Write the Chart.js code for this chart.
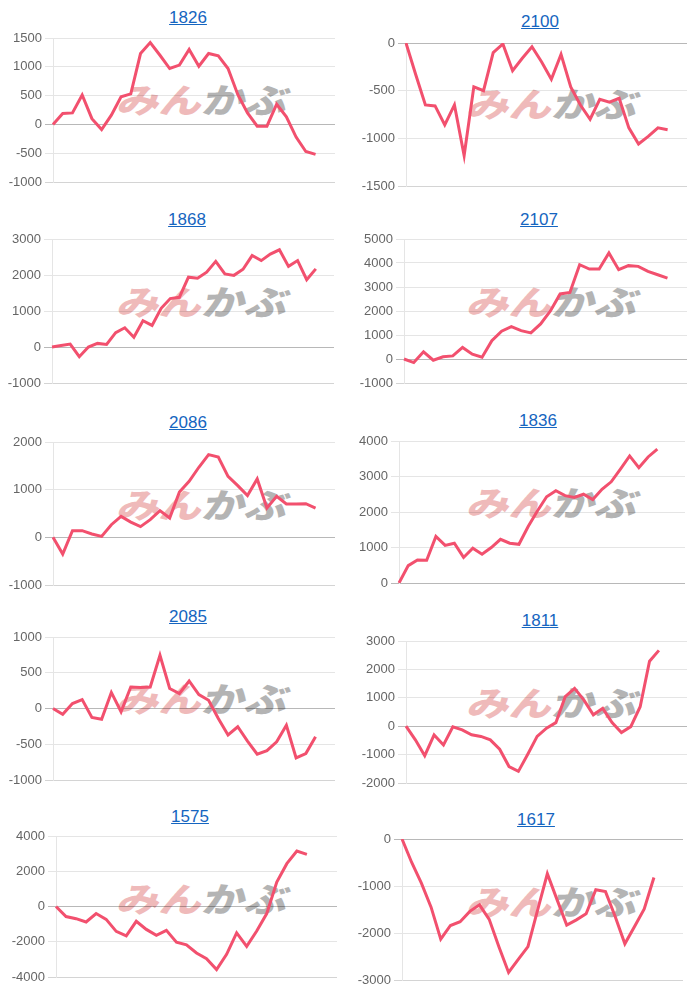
<!DOCTYPE html>
<html>
<head>
<meta charset="utf-8">
<script src="https://cdn.jsdelivr.net/npm/chart.js@4.4.1/dist/chart.umd.min.js"></script>
<style>
  body { margin: 0; background: #fff; width: 700px; height: 997px; position: relative; overflow: hidden;
         font-family: "Liberation Sans", Arial, sans-serif; }
  .title { position: absolute; transform: translateX(-50%); font-size: 17px; line-height: 20px;
           color: #1565c0; text-decoration: underline; white-space: nowrap; }
  .wm { position: absolute; font-family: "Noto Sans CJK JP"; font-weight: 900; font-size: 34px; line-height: 34px;
        white-space: nowrap; transform-origin: 0 0; transform: scaleX(1.25) skewX(-12deg); }
  .wm .p { color: #efbaba; }
  .wm .g { color: #b4b4b4; }
  canvas { position: absolute; }
</style>
</head>
<body>
<script>
// one title per small chart
const titles = ['1826', '2100', '1868', '2107', '2086', '1836', '2085', '1811', '1575', '1617'];

// cumulative values
const s1826 = [0, 190, 200, 510, 100, -90, 160, 480, 530, 1230, 1420, 1200, 970, 1030, 1300, 1010, 1230, 1190, 970, 520, 200, -30, -30, 350, 130, -220, -470, -520];
const s2100 = [0, -330, -650, -660, -860, -650, -1180, -460, -500, -100, -10, -290, -160, -40, -200, -380, -120, -460, -650, -800, -590, -620, -580, -890, -1060, -980, -890, -910];
const s1868 = [0, 40, 80, -270, 0, 100, 70, 400, 535, 270, 730, 600, 1075, 1345, 1380, 1940, 1910, 2080, 2380, 2030, 1990, 2160, 2540, 2400, 2580, 2700, 2240, 2400, 1870, 2170];
const s2107 = [0, -150, 300, -50, 90, 130, 480, 200, 75, 760, 1160, 1345, 1180, 1090, 1460, 2000, 2710, 2770, 3930, 3750, 3750, 4420, 3720, 3890, 3860, 3650, 3510, 3370];
const s2086 = [0, -350, 140, 140, 70, 20, 265, 440, 320, 225, 370, 560, 405, 950, 1175, 1470, 1735, 1685, 1280, 1085, 875, 1225, 615, 860, 700, 700, 705, 615];
const s1836 = [0, 490, 650, 640, 1310, 1060, 1120, 720, 980, 810, 1000, 1230, 1120, 1090, 1590, 2030, 2430, 2600, 2460, 2410, 2500, 2350, 2640, 2850, 3210, 3580, 3250, 3550, 3770];
const s2085 = [0, -80, 70, 125, -125, -150, 225, -45, 300, 295, 300, 745, 280, 210, 385, 195, 115, -140, -370, -255, -455, -640, -590, -465, -235, -690, -630, -395];
const s1811 = [0, -480, -1040, -310, -660, -20, -130, -300, -360, -480, -810, -1420, -1590, -990, -360, -70, 125, 1040, 1330, 920, 400, 630, 125, -225, -15, 685, 2285, 2670];
const s1575 = [0, -570, -690, -880, -400, -730, -1410, -1670, -840, -1300, -1640, -1350, -2020, -2170, -2640, -2960, -3580, -2710, -1500, -2260, -1390, -400, 1390, 2430, 3150, 2960];
const s1617 = [0, -500, -940, -1450, -2130, -1840, -1760, -1540, -1400, -1710, -2290, -2840, -2560, -2290, -1510, -740, -1290, -1830, -1720, -1590, -1080, -1120, -1650, -2230, -1860, -1490, -820];
const series = [s1826, s2100, s1868, s2107, s2086, s1836, s2085, s1811, s1575, s1617];

// x category slots per chart (the line stops short of the right edge)
const slotCounts = [30, 30, 32, 30, 30, 32, 30, 31, 29, 30];

// y axis ticks
const yMin  = [-1000, -1500, -1000, -1000, -1000,    0, -1000, -2000, -4000, -3000];
const yMax  = [ 1500,     0,  3000,  5000,  2000, 4000,  1000,  3000,  4000,     0];
const yStep = [  500,   500,  1000,  1000,  1000, 1000,   500,  1000,  2000,  1000];

// page layout: column left, plot left/right/top/bottom, title centre x/y
const boxes = [
  [0,   53, 335,  38, 182, 188,  18],
  [350, 406, 687,  43, 186, 540,  22],
  [0,   52, 334, 239, 383, 187, 220],
  [350, 404, 687, 239, 383, 539, 220],
  [0,   53, 335, 442, 585, 188, 423],
  [350, 399, 685, 441, 583, 538, 421],
  [0,   53, 335, 637, 780, 188, 617],
  [350, 406, 687, 641, 783, 540, 621],
  [0,   56, 337, 836, 977, 190, 817],
  [350, 402, 683, 839, 980, 536, 820]
];

const PAD = 12;
const LINE = 'rgb(242, 80, 110)';

titles.forEach((t, i) => {
  const [col, L, R, T, B, tx, ty] = boxes[i];

  const a = document.createElement('a');
  a.className = 'title';
  a.href = '#';
  a.textContent = t;
  a.style.left = tx + 'px';
  a.style.top = (ty - 10) + 'px';
  document.body.appendChild(a);

  const wm = document.createElement('div');
  wm.className = 'wm';
  wm.innerHTML = '<span class="p">みん</span><span class="g">かぶ</span>';
  wm.style.left = (col + 124) + 'px';
  wm.style.top = (ty + 64) + 'px';
  document.body.appendChild(wm);

  const cv = document.createElement('canvas');
  const w = R - col, h = B - T + PAD * 2;
  cv.width = w;
  cv.height = h;
  cv.style.left = col + 'px';
  cv.style.top = (T - PAD) + 'px';
  cv.style.width = w + 'px';
  cv.style.height = h + 'px';
  document.body.appendChild(cv);

  const labels = Array.from({ length: slotCounts[i] }, (_, k) => k + 1);

  new Chart(cv, {
    type: 'line',
    data: {
      labels,
      datasets: [{
        data: series[i],
        borderColor: LINE,
        borderWidth: 3,
        pointRadius: 0,
        tension: 0,
        fill: false
      }]
    },
    options: {
      responsive: false,
      animation: false,
      layout: { padding: { top: PAD, bottom: PAD, left: 0, right: 0 } },
      plugins: { legend: { display: false }, tooltip: { enabled: false } },
      scales: {
        x: { display: false },
        y: {
          min: yMin[i],
          max: yMax[i],
          afterFit: s => { s.width = L - col; },
          ticks: {
            stepSize: yStep[i],
            color: '#666',
            font: { family: '"Liberation Sans", Arial, sans-serif', size: 13 },
            callback: v => String(v)
          },
          grid: {
            color: c => c.tick && c.tick.value === 0 ? 'rgba(0,0,0,0.28)'
                      : (c.index === 0 ? 'rgba(0,0,0,0.17)' : 'rgba(0,0,0,0.1)')
          },
          border: { color: 'rgba(0,0,0,0.1)' }
        }
      }
    }
  });
});
</script>
</body>
</html>
